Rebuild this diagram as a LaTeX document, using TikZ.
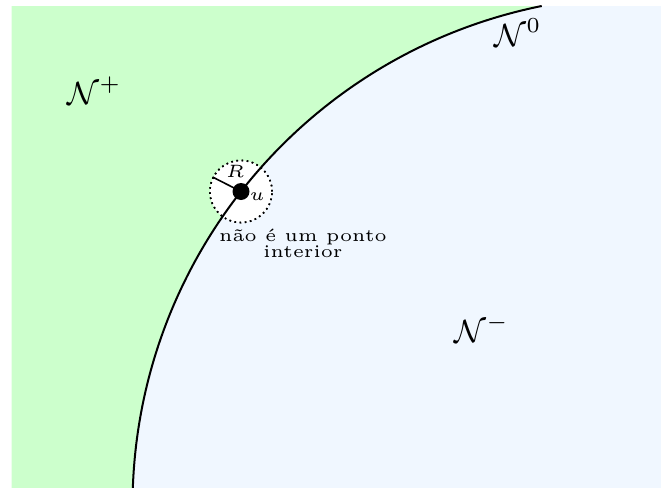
\documentclass[tikz,border=0pt]{standalone}
\definecolor{grn}{RGB}{204,255,204}
\definecolor{blu}{RGB}{240,247,255}
\begin{document}
\begin{tikzpicture}[x=0.28pt,y=-0.28pt,
  boundary/.style={line width=0.56pt},
  nbhdstyle/.style={circle, draw, fill=white, line width=0.45pt, dash pattern=on 0.45pt off 1.0pt, minimum size=17.4pt, inner sep=0pt},
  pointstyle/.style={circle, fill=black, minimum size=4.76pt, inner sep=0pt},
  smalllab/.style={inner sep=0pt, font=\tiny},
  setlab/.style={inner sep=0pt, anchor=base west, font=\small}]
\useasboundingbox (0,0) rectangle (661,488);
\coordinate (top) at (541.7,6);
\coordinate (bot) at (132.9,488);
\fill[blu] (11.7,6) rectangle (661,488);
\fill[grn] (11.7,6) -- (top) arc[start angle=258.6,end angle=182.02,radius=510] -- (11.7,488) -- cycle;
\node[nbhdstyle] (nbhd) at (241,191.5) {};
\draw[boundary] (top) arc[start angle=258.6,end angle=182.02,radius=510];
\node[nbhdstyle, fill=none] at (nbhd.center) {};
\draw[line width=0.45pt] (nbhd.center) -- (nbhd.153.5);
\node[pointstyle] (u) at (nbhd.center) {};
\node[smalllab] (R) at (235,171.7) {$R$};
\node[smalllab] (ulab) at (257.3,196.7) {$u$};
\node[smalllab, align=center, font=\fontsize{5}{4.3}\selectfont] (txt) at (303,243.5) {não é um ponto\\interior};
\node[setlab] (np) at (67,104) {$\mathcal{N}^+$};
\node[setlab] (nm) at (454,342) {$\mathcal{N}^-$};
\node[setlab] (nz) at (494,46) {$\mathcal{N}^0$};
\end{tikzpicture}
\end{document}
